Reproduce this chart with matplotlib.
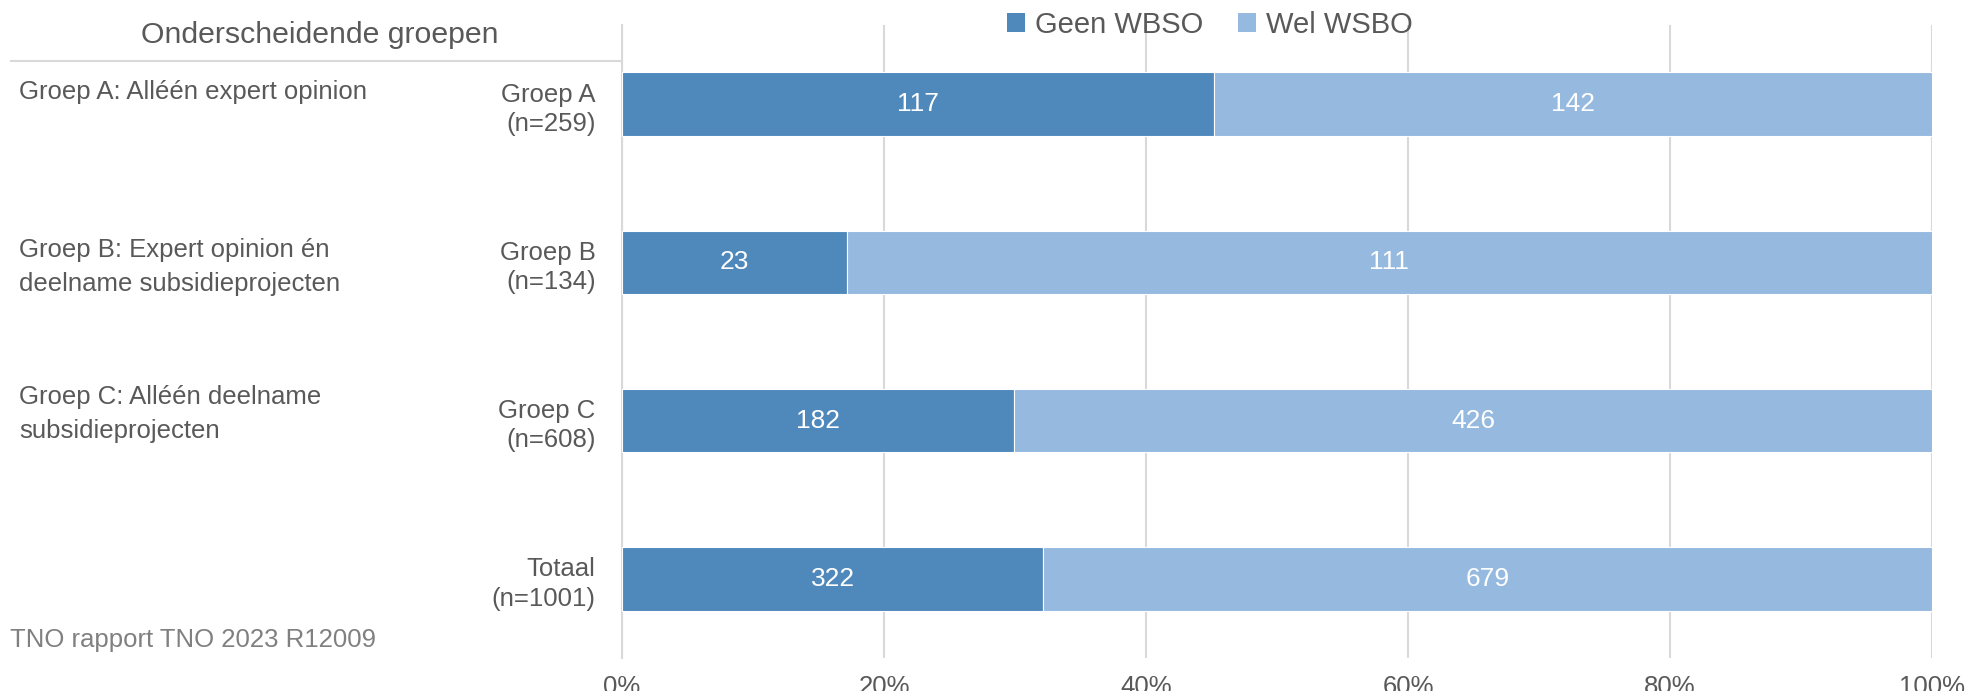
import matplotlib
matplotlib.use('Agg')
import matplotlib.pyplot as plt
import numpy as np
from matplotlib.patches import Patch
from matplotlib.ticker import PercentFormatter

# data
groups = ['Groep A\n(n=259)', 'Groep B\n(n=134)', 'Groep C\n(n=608)', 'Totaal\n(n=1001)']
geen_wbso = np.array([117, 23, 182, 322])
wel_wsbo = np.array([142, 111, 426, 679])
series_names = ['Geen WBSO', 'Wel WSBO']
descriptions = ['Groep A: Alléén expert opinion',
                'Groep B: Expert opinion én\ndeelname subsidieprojecten',
                'Groep C: Alléén deelname\nsubsidieprojecten']
header = 'Onderscheidende groepen'
footer = 'TNO rapport TNO 2023 R12009'

narrow = ['Liberation Sans Narrow', 'Liberation Sans', 'DejaVu Sans']
arial = ['Liberation Sans', 'DejaVu Sans']
grey_txt = '#595959'
dark = '#4f88bb'
light = '#95b9df'
gridc = '#d9d9d9'
fs = 18.5

W, H = 1972, 691
fig = plt.figure(figsize=(W / 100, H / 100), dpi=100)
ax = fig.add_axes([622 / W, 1 - 658 / H, (1932 - 622) / W, (658 - 25) / H])

total = geen_wbso + wel_wsbo
p_geen = geen_wbso / total * 100
p_wel = wel_wsbo / total * 100
y = np.arange(len(groups))

b1 = ax.barh(y, p_geen, height=0.4, color=dark, edgecolor='white', linewidth=0.8, zorder=3)
b2 = ax.barh(y, p_wel, left=p_geen, height=0.4, color=light, edgecolor='white', linewidth=0.8, zorder=3)

for bars, vals in ((b1, geen_wbso), (b2, wel_wsbo)):
    for rect, v in zip(bars, vals):
        ax.text(rect.get_x() + rect.get_width() / 2, rect.get_y() + rect.get_height() / 2, str(v),
                ha='center', va='center', color='white', fontsize=19, family=narrow, zorder=4)

ax.set_xlim(0, 100)
ax.set_ylim(3.5, -0.5)
ax.set_xticks(np.arange(0, 101, 20))
ax.xaxis.set_major_formatter(PercentFormatter(decimals=0))
ax.set_yticks(y)
ax.set_yticklabels(groups, family=narrow, fontsize=fs, color=grey_txt, linespacing=1.28)
for lab in ax.get_xticklabels():
    lab.set_family(narrow)
    lab.set_fontsize(fs)
    lab.set_color(grey_txt)
ax.tick_params(axis='y', length=0, pad=19)
ax.tick_params(axis='x', length=0, pad=12)
ax.grid(axis='x', color=gridc, linewidth=1.5, zorder=0)
for s in ['top', 'right', 'bottom']:
    ax.spines[s].set_visible(False)
ax.spines['left'].set_color(gridc)
ax.spines['left'].set_linewidth(1.5)

# left-hand panel
fig.text(320 / W, 1 - 35 / H, header, ha='center', va='center', fontsize=21.8,
         family=narrow, color=grey_txt)
fig.add_artist(plt.Line2D([11 / W, 620 / W], [1 - 61 / H, 1 - 61 / H], color=gridc, linewidth=1.5))
desc_tops = [80, 238, 385]
for d, t in zip(descriptions, desc_tops):
    fig.text(19 / W, 1 - t / H, d, ha='left', va='top', fontsize=fs, family=narrow,
             color=grey_txt, linespacing=1.55)
fig.text(10 / W, 1 - 640 / H, footer, ha='left', va='center', fontsize=fs, family=narrow,
         color='#808080')

handles = [Patch(facecolor=dark), Patch(facecolor=light)]
fig.legend(handles, series_names, loc='center', bbox_to_anchor=(1210 / W, 1 - 25 / H), ncol=2,
           frameon=False, handlelength=0.6, handleheight=0.6, handletextpad=0.35, columnspacing=1.2,
           prop={'family': arial, 'size': 21}, labelcolor=grey_txt)

fig.savefig('out.png', dpi=100)
